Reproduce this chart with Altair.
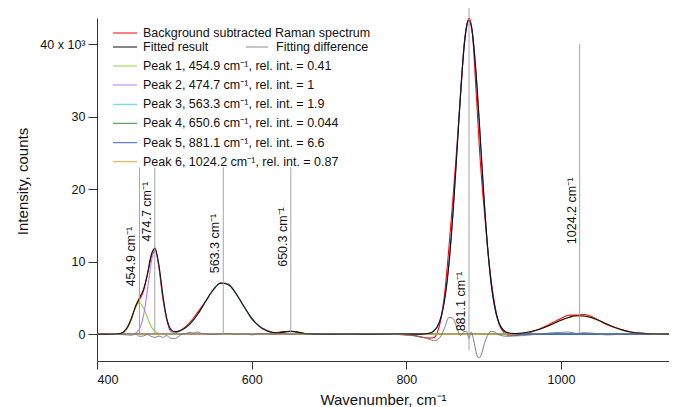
import altair as alt
import pandas as pd

# ---------------- data (intensity in units of 10^3 counts) ----------------
wn_grid = [400, 410, 420, 425, 430, 435, 440, 445, 450, 455, 460, 465, 470, 475, 480, 485, 490,
           495, 500, 505, 510, 520, 530, 540, 550, 560, 570, 580, 590, 600, 610, 620, 630, 635,
           640, 645, 650, 655, 660, 665, 670, 680, 690, 700, 720, 740, 760, 780, 800, 810, 820,
           830, 835, 840, 845, 850, 855, 860, 865, 870, 875, 880, 881, 885, 890, 895, 900, 905,
           910, 915, 920, 925, 930, 940, 950, 960, 970, 980, 990, 1000, 1010, 1020, 1030, 1040,
           1050, 1060, 1070, 1080, 1090, 1100, 1110, 1120, 1130, 1140, 1150]

measured = [0.05, 0.08, 0.0, 0.0, 0.05, 0.3, 1.0, 2.2, 3.9, 4.75, 5.9, 8.1, 10.6, 11.7, 9.3, 5.0, 2.1,
            0.45, 0.25, 0.35, 0.65, 1.6, 3.0, 4.45, 6.05, 7.1, 6.9, 5.5, 3.85, 2.1, 1.1, 0.5, 0.2, 0.25,
            0.35, 0.35, 0.36, 0.35, 0.3, 0.15, 0.06, 0.01, 0.0, 0.05, 0.0, 0.05, 0.05, 0.0, -0.1, -0.2, -0.4,
            -0.55, -0.5, 0.2, 2.2, 6.0, 11.8, 18.3, 25.3, 32.7, 40.2, 43.4, 43.6, 42.0, 34.0, 24.9, 18.0, 12.0,
            7.2, 3.7, 1.4, 0.4, -0.1, -0.15, -0.03, 0.24, 0.61, 1.08, 1.64, 2.17, 2.61, 2.63, 2.71, 2.41,
            1.84, 1.26, 0.92, 0.56, 0.31, 0.2, 0.07, 0.03, 0.01, 0.0, 0.0]

fitted = [0.0, 0.0, 0.0, 0.02, 0.09, 0.37, 1.09, 2.37, 3.86, 5.04, 6.15, 8.19, 10.88, 11.87, 9.54, 5.47, 2.26,
          0.74, 0.34, 0.39, 0.60, 1.39, 2.71, 4.43, 6.09, 7.03, 6.83, 5.57, 3.82, 2.21, 1.07, 0.44, 0.20, 0.20,
          0.27, 0.36, 0.41, 0.37, 0.26, 0.14, 0.06, 0.01, 0.0, 0.0, 0.0, 0.0, 0.0, 0.0, 0.0, 0.0, 0.01,
          0.13, 0.39, 1.02, 2.39, 5.05, 9.53, 16.1, 24.3, 32.9, 39.9, 43.2, 43.3, 41.9, 36.3, 28.2, 19.6, 12.2,
          6.77, 3.38, 1.51, 0.64, 0.24, 0.10, 0.17, 0.34, 0.61, 0.98, 1.44, 1.92, 2.31, 2.53, 2.51, 2.26,
          1.84, 1.36, 0.92, 0.56, 0.31, 0.15, 0.07, 0.03, 0.01, 0.0, 0.0]

diff_wn = [400, 410, 420, 430, 440, 445, 450, 455, 460, 465, 470, 475, 480, 485, 490, 495, 500, 505, 510,
           515, 520, 525, 530, 535, 540, 550, 560, 570, 580, 590, 600, 610, 620, 630, 640, 650, 660, 680,
           700, 720, 740, 760, 780, 800, 810, 820, 830, 835, 840, 845, 850, 855, 860, 865, 870, 874, 878,
           881, 884, 887, 891, 894, 897, 901, 905, 910, 914, 920, 930, 940, 950, 960, 970, 980, 990, 1000,
           1010, 1020, 1030, 1040, 1050, 1060, 1080, 1100, 1120, 1150]
difference = [0.05, 0.08, 0.0, -0.05, -0.1, -0.15, 0.05, -0.3, -0.25, -0.05, -0.3, -0.45, -0.25, -0.45, -0.2,
              -0.55, -0.6, -0.35, 0.0, 0.1, 0.25, 0.15, 0.3, 0.1, 0.05, -0.05, 0.05, 0.1, -0.05, 0.05, -0.1,
              0.05, 0.05, 0.0, 0.1, -0.05, 0.05, 0.0, 0.05, 0.0, 0.05, 0.05, 0.0, -0.1, -0.2, -0.4, -0.7, -0.9,
              -0.8, -0.2, 1.0, 2.3, 2.2, 1.0, -0.2, 0.3, 0.4, -0.6, 0.3, -0.8, -2.8, -3.3, -2.8, -1.3, -0.2,
              0.4, 0.3, -0.1, -0.3, -0.25, -0.2, -0.1, 0.0, 0.1, 0.2, 0.25, 0.3, 0.1, 0.2, 0.15, 0.0, -0.1,
              0.0, 0.05, 0.0, 0.0]

p1_wn = [400, 419, 428, 432.4, 437, 441.4, 446, 450.4, 455, 459.4, 464, 468.4, 473, 477.4, 482, 491, 1150]
p1_int = [0, 0, 0.05, 0.19, 0.58, 1.40, 2.61, 3.79, 4.3, 3.79, 2.61, 1.40, 0.58, 0.19, 0.05, 0, 0]

p2_wn = [400, 437.7, 445.3, 449.5, 453.7, 457.9, 462.1, 466.3, 470.5, 474.7, 478.9, 483.1, 487.3, 491.5,
         495.7, 499.9, 504.1, 511.7, 1150]
p2_int = [0, 0, 0.025, 0.13, 0.50, 1.56, 3.73, 6.97, 10.15, 11.5, 10.15, 6.97, 3.73, 1.56, 0.50, 0.13,
          0.025, 0, 0]

p3_wn = [400, 479.3, 491.3, 497.3, 503.3, 509.3, 515.3, 521.3, 527.3, 533.3, 539.3, 545.3, 551.3, 557.3,
         563.3, 569.3, 575.3, 581.3, 587.3, 593.3, 599.3, 605.3, 611.3, 617.3, 623.3, 629.3, 635.3, 647.3, 1150]
p3_int = [0, 0.016, 0.08, 0.16, 0.31, 0.57, 0.96, 1.54, 2.31, 3.25, 4.31, 5.36, 6.27, 6.88, 7.1, 6.88, 6.27,
          5.36, 4.31, 3.25, 2.31, 1.54, 0.96, 0.57, 0.31, 0.16, 0.08, 0.016, 0]

p4_wn = [400, 615.6, 625.6, 630.6, 635.6, 640.6, 645.6, 650.6, 655.6, 660.6, 665.6, 670.6, 675.6, 685.6, 1150]
p4_int = [0, 0, 0.018, 0.054, 0.13, 0.243, 0.353, 0.4, 0.353, 0.243, 0.13, 0.054, 0.018, 0, 0]

p5_wn = [400, 821, 831, 836, 841, 846, 851, 856, 861, 866, 871, 876, 881, 886, 891, 896, 901, 906, 911,
         916, 921, 926, 931, 941, 1150]
p5_int = [0, 0.01, 0.17, 0.48, 1.24, 2.85, 5.86, 10.8, 17.8, 26.3, 34.7, 41.0, 43.3, 41.0, 34.7, 26.3, 17.8,
          10.8, 5.86, 2.85, 1.24, 0.48, 0.17, 0.01, 0]

p6_wn = [400, 912.2, 928.2, 936.2, 944.2, 952.2, 960.2, 968.2, 976.2, 984.2, 992.2, 1000.2, 1008.2, 1016.2,
         1024.2, 1032.2, 1040.2, 1048.2, 1056.2, 1064.2, 1072.2, 1080.2, 1088.2, 1096.2, 1104.2, 1112.2,
         1120.2, 1136.2, 1150]
p6_int = [0, 0.006, 0.028, 0.058, 0.11, 0.20, 0.345, 0.55, 0.83, 1.17, 1.55, 1.92, 2.25, 2.47, 2.55, 2.47,
          2.25, 1.92, 1.55, 1.17, 0.83, 0.55, 0.345, 0.20, 0.11, 0.058, 0.028, 0.006, 0]

# peak marker annotations
mark_wn = [454.9, 474.7, 563.3, 650.6, 881.1, 1024.2]
mark_text = ["454.9 cm\u207b\u00b9", "474.7 cm\u207b\u00b9", "563.3 cm\u207b\u00b9",
             "650.3 cm\u207b\u00b9", "881.1 cm\u207b\u00b9", "1024.2 cm\u207b\u00b9"]
mark_bottom = [0, 0, 0, 0, -2.2, 0]
mark_top = [23, 23, 23, 23, 45, 40]
label_mid = [10.7, 16.9, 12.5, 13.4, 4.5, 17.0]

legend_labels = ["Background subtracted Raman spectrum", "Fitted result", "Fitting difference",
                 "Peak 1, 454.9 cm\u207b\u00b9, rel. int. = 0.41",
                 "Peak 2, 474.7 cm\u207b\u00b9, rel. int. = 1",
                 "Peak 3, 563.3 cm\u207b\u00b9, rel. int. = 1.9",
                 "Peak 4, 650.6 cm\u207b\u00b9, rel. int. = 0.044",
                 "Peak 5, 881.1 cm\u207b\u00b9, rel. int. = 6.6",
                 "Peak 6, 1024.2 cm\u207b\u00b9, rel. int. = 0.87"]

C_RED, C_BLACK, C_GRAY = "#ff0000", "#111111", "#707070"
peak_colors = ["#86dc3c", "#b07cf2", "#3fdbe8", "#3a8a3a", "#3a5cf0", "#e6a444"]

# ---------------- chart ----------------
X_DOM = [400, 1139.7]
Y_DOM = [-3.7, 43.6]
FONT = "Liberation Sans"

xs = alt.Scale(domain=X_DOM, nice=False, zero=False)
ys = alt.Scale(domain=Y_DOM, nice=False, zero=False)

x_axis = alt.Axis(values=[400, 600, 800, 1000], format="d", title="Wavenumber, cm\u207b\u00b9", grid=False,
                  tickSize=8, labelPadding=4, titleY=38, titleBaseline="middle",
                  titleFontSize=15, titleFontWeight="normal", labelFontSize=12.5)
y_axis = alt.Axis(values=[0, 10, 20, 30, 40], format="d", title="Intensity, counts", grid=False,
                  tickSize=9, labelPadding=3,
                  labelExpr="datum.value == 40 ? '40 x 10\u00b3' : datum.label",
                  titleX=-75, titleY=163, titleAngle=270, titleAlign="center", titleBaseline="middle",
                  titleFontSize=15, titleFontWeight="normal", labelFontSize=12.5)


def X(field):
    return alt.X(field, type="quantitative", scale=xs, axis=x_axis)


def Y(field):
    return alt.Y(field, type="quantitative", scale=ys, axis=y_axis)


def line_layer(xv, yv, color, width):
    df = pd.DataFrame({"wn": xv, "v": yv})
    return alt.Chart(df).mark_line(color=color, strokeWidth=width, interpolate="monotone", clip=True).encode(
        x=X("wn"), y=Y("v"))


layers = [line_layer(wn_grid, measured, C_RED, 1.1)]
peaks = [(p1_wn, p1_int), (p2_wn, p2_int), (p3_wn, p3_int), (p4_wn, p4_int), (p5_wn, p5_int), (p6_wn, p6_int)]
for (pw, pi), col in zip(peaks, peak_colors):
    layers.append(line_layer(pw, pi, col, 1.1))
layers.append(line_layer(wn_grid, fitted, C_BLACK, 1.1))
layers.append(line_layer(diff_wn, difference, C_GRAY, 0.9))

ann = pd.DataFrame({"wn": mark_wn, "lo": mark_bottom, "hi": mark_top, "mid": label_mid, "txt": mark_text})
layers.append(alt.Chart(ann).mark_rule(color="#9a9a9a", strokeWidth=0.9).encode(
    x=X("wn"), y=Y("lo"), y2="hi:Q"))
layers.append(alt.Chart(ann).mark_text(angle=270, align="center", baseline="bottom", dy=-1,
                                       fontSize=12.5, font=FONT, color="#111111").encode(
    x=X("wn"), y=Y("mid"), text="txt:N"))

# legend (drawn inside the plot, top-left), one row of data per entry
one = pd.DataFrame({"k": [0]})
leg_colors = [C_RED, C_BLACK, C_GRAY] + peak_colors
leg_rows = [15, 29, 29, 48, 67, 86.3, 105.3, 124.7, 143.7]
leg_x0 = [16, 16, 149, 16, 16, 16, 16, 16, 16]
leg_len = [24, 24, 22, 24, 24, 24, 24, 24, 24]
leg_tx = [46, 46, 179, 46, 46, 46, 46, 46, 46]
for lab, col, ry, x0, ln, tx in zip(legend_labels, leg_colors, leg_rows, leg_x0, leg_len, leg_tx):
    layers.append(alt.Chart(one).mark_rule(color=col, strokeWidth=1 if col != C_GRAY else 0.8).encode(
        x=alt.value(x0), x2=alt.value(x0 + ln), y=alt.value(ry)))
    layers.append(alt.Chart(one).mark_text(align="left", baseline="middle", fontSize=12.5, font=FONT,
                                           color="#111111").encode(
        x=alt.value(tx), y=alt.value(ry), text=alt.value(lab)))

chart = alt.layer(*layers).properties(
    width=572, height=343,
    autosize=alt.AutoSizeParams(type="none"),
    padding={"left": 89, "top": 10, "right": 0, "bottom": 46},
).configure(font=FONT).configure_view(stroke=None).configure_axis(
    domainColor="#333333", tickColor="#333333", labelColor="#111111", titleColor="#111111",
    labelFont=FONT, titleFont=FONT, domainWidth=1, tickWidth=1,
)

chart.save("out.html", embed_options={"renderer": "svg", "actions": False})
